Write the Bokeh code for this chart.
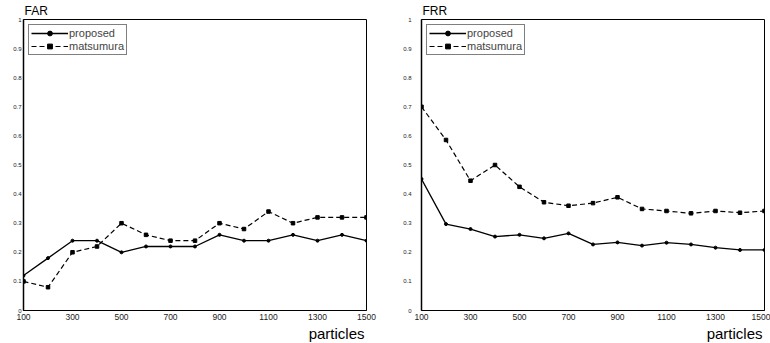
from bokeh.plotting import figure
from bokeh.layouts import row
from bokeh.models import Range1d, FixedTicker, Legend, LegendItem, Title
from bokeh.embed import file_html
from bokeh.resources import INLINE

particles = [100, 200, 300, 400, 500, 600, 700, 800, 900, 1000, 1100, 1200, 1300, 1400, 1500]
far_proposed = [0.12, 0.18, 0.24, 0.24, 0.20, 0.22, 0.22, 0.22, 0.26, 0.24, 0.24, 0.26, 0.24, 0.26, 0.24]
far_matsumura = [0.10, 0.08, 0.20, 0.22, 0.30, 0.26, 0.24, 0.24, 0.30, 0.28, 0.34, 0.30, 0.32, 0.32, 0.32]
frr_proposed = [0.452, 0.297, 0.28, 0.254, 0.26, 0.248, 0.265, 0.227, 0.234, 0.223, 0.233, 0.227, 0.216, 0.208, 0.208]
frr_matsumura = [0.70, 0.586, 0.446, 0.50, 0.425, 0.372, 0.36, 0.369, 0.389, 0.349, 0.342, 0.334, 0.342, 0.336, 0.342]
x_ticks = [100, 300, 500, 700, 900, 1100, 1300, 1500]
y_ticks = [0, 0.1, 0.2, 0.3, 0.4, 0.5, 0.6, 0.7, 0.8, 0.9, 1]
y_tick_labels = ["0", "0.1", "0.2", "0.3", "0.4", "0.5", "0.6", "0.7", "0.8", "0.9", "1"]
series_names = ["proposed", "matsumura"]
titles = ["FAR", "FRR"]
x_label = "particles"

FONT = "Liberation Sans"


def make_panel(title, prop, mats, width, bl, br, ystandoff):
    p = figure(width=width, height=343, output_backend="svg", toolbar_location=None,
               x_range=Range1d(100, 1500), y_range=Range1d(0, 1),
               min_border_left=bl, min_border_right=br, min_border_top=19, min_border_bottom=33)
    p.outline_line_color = "black"
    p.outline_line_width = 1
    p.xgrid.visible = False
    p.ygrid.visible = False
    p.background_fill_color = "white"
    p.border_fill_color = "white"

    p.title.text = title
    p.title.align = "left"
    p.title.offset = 1
    p.title.standoff = 3
    p.title.text_font = FONT
    p.title.text_font_size = "12px"
    p.title.text_font_style = "normal"
    p.title.text_color = "black"

    p.xaxis.ticker = FixedTicker(ticks=x_ticks)
    p.yaxis.ticker = FixedTicker(ticks=y_ticks)
    p.yaxis.major_label_overrides = {t: l for t, l in zip(y_ticks, y_tick_labels)}
    for ax in (p.xaxis, p.yaxis):
        ax.major_tick_out = 0
        ax.major_tick_in = 0
        ax.minor_tick_out = 0
        ax.minor_tick_in = 0
        ax.axis_line_color = "black"
        ax.major_label_text_font = FONT
        ax.major_label_text_color = "#222222"
    p.yaxis.axis_line_width = 1.5
    p.xaxis.major_label_text_font_size = "8.5px"
    p.xaxis.major_label_standoff = 3
    p.yaxis.major_label_text_font_size = "6px"
    p.yaxis.major_label_standoff = ystandoff

    r1 = p.line(particles, prop, line_color="black", line_width=1.3)
    m1 = p.scatter(particles, prop, marker="circle", size=3, color="black")
    r2 = p.line(particles, mats, line_color="black", line_width=1.2, line_dash="5 3")
    m2 = p.scatter(particles, mats, marker="square", size=3.5, color="black")

    legend = Legend(items=[LegendItem(label=series_names[0], renderers=[r1, m1]),
                           LegendItem(label=series_names[1], renderers=[r2, m2])],
                    location="top_left")
    legend.margin = 5
    legend.padding = 2
    legend.spacing = 1
    legend.glyph_width = 37
    legend.glyph_height = 12
    legend.label_height = 12
    legend.label_standoff = 1
    legend.label_text_font = FONT
    legend.label_text_font_size = "11px"
    legend.border_line_color = "black"
    legend.border_line_width = 1
    legend.background_fill_alpha = 1
    p.add_layout(legend)

    xt = Title(text=x_label, align="right", offset=2, standoff=0,
               text_font=FONT, text_font_size="15px", text_font_style="normal",
               text_color="black")
    p.add_layout(xt, "below")
    return p


p1 = make_panel(titles[0], far_proposed, far_matsumura, 398, 23, 32, 2)
p2 = make_panel(titles[1], frr_proposed, frr_matsumura, 372, 23, 6, 10)
p = row(p1, p2)

open("out.html", "w").write(file_html(p, INLINE))
